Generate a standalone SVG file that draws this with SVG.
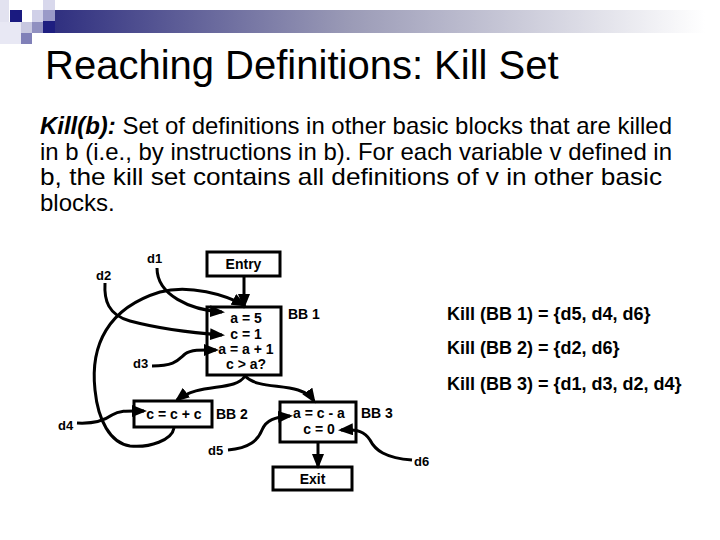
<svg xmlns="http://www.w3.org/2000/svg" width="720" height="540" viewBox="0 0 720 540">
<defs>
<linearGradient id="bar" x1="0" y1="0" x2="1" y2="0">
<stop offset="0" stop-color="#303080"/>
<stop offset="0.45" stop-color="#9a9ab6"/>
<stop offset="1" stop-color="#ffffff"/>
</linearGradient>
<marker id="ah" markerWidth="15" markerHeight="12" refX="12" refY="6" orient="auto" markerUnits="userSpaceOnUse">
<path d="M0,0 L15,6 L0,12 z" fill="#000"/>
</marker>
<style>
.box{fill:#fff;stroke:#000;stroke-width:3}
.bt{font-family:"Liberation Sans",Arial,sans-serif;font-weight:bold;font-size:14px;fill:#000;text-anchor:middle}
.lb{font-family:"Liberation Sans",Arial,sans-serif;font-weight:bold;font-size:14px;fill:#000}
.dl{font-family:"Liberation Sans",Arial,sans-serif;font-weight:bold;font-size:13px;fill:#000}
.ks{font-family:"Liberation Sans",Arial,sans-serif;font-weight:bold;font-size:18px;fill:#000}
.body{font-family:"Liberation Sans",Arial,sans-serif;font-size:24px;fill:#000}
.ca{fill:none;stroke:#000;stroke-width:3;marker-end:url(#ah)}
</style>
</defs>
<rect width="720" height="540" fill="#fff"/>
<g id="decoration">
<rect x="0" y="0" width="9" height="44" fill="#e2e2f0"/>
<rect x="0" y="22" width="22" height="22" fill="#e8e8f4"/>
<rect x="10" y="10" width="12" height="12" fill="#1a1a80"/>
<rect x="32" y="10" width="11" height="12" fill="#d0d0e8"/>
<rect x="43" y="0" width="12" height="10" fill="#d8d8ec"/>
<rect x="43" y="10" width="12" height="11" fill="#9a9ac8"/>
<rect x="21" y="22" width="11" height="11" fill="#c8c8e0"/>
<rect x="32" y="22" width="11" height="11" fill="#9090c0"/>
<rect x="43" y="21" width="12" height="12" fill="#1e1e80"/>
<rect x="21" y="33" width="11" height="11" fill="#8080b8"/>
<rect x="55" y="10" width="650" height="23" fill="url(#bar)"/>
</g>
<text x="45" y="79" font-family="'Liberation Sans',Arial,sans-serif" font-size="40" fill="#000">Reaching Definitions: Kill Set</text>
<g id="body-text">
<text class="body" x="40" y="134" textLength="632" lengthAdjust="spacingAndGlyphs"><tspan font-weight="bold" font-style="italic">Kill(b):</tspan> Set of definitions in other basic blocks that are killed</text>
<text class="body" x="40" y="160" textLength="632" lengthAdjust="spacingAndGlyphs">in b (i.e., by instructions in b). For each variable v defined in</text>
<text class="body" x="40" y="185" textLength="622" lengthAdjust="spacingAndGlyphs">b, the kill set contains all definitions of v in other basic</text>
<text class="body" x="40" y="211">blocks.</text>
</g>
<g id="entry">
<rect class="box" x="207" y="252" width="73" height="24"/>
<text class="bt" x="243.5" y="269">Entry</text>
</g>
<g id="bb1">
<rect class="box" x="207" y="307" width="74" height="68"/>
<text class="bt" x="246" y="323">a = 5</text>
<text class="bt" x="246" y="339">c = 1</text>
<text class="bt" x="246" y="354">a = a + 1</text>
<text class="bt" x="246" y="369">c &gt; a?</text>
<text class="lb" x="288" y="319">BB 1</text>
</g>
<g id="bb2">
<rect class="box" x="134" y="401" width="78" height="26"/>
<text class="bt" x="174" y="419">c = c + c</text>
<text class="lb" x="216" y="419">BB 2</text>
</g>
<g id="bb3">
<rect class="box" x="280" y="402" width="76" height="40"/>
<text class="bt" x="319" y="418">a = c - a</text>
<text class="bt" x="319" y="434">c = 0</text>
<text class="lb" x="361" y="418">BB 3</text>
</g>
<g id="exit">
<rect class="box" x="273" y="467" width="79" height="23"/>
<text class="bt" x="312.5" y="484">Exit</text>
</g>
<g id="connectors">
<path class="ca" d="M244,277 L244,306"/>
<path class="ca" d="M245,376 C235,392 200,382 177,400"/>
<path class="ca" d="M245,376 C260,392 300,380 314,401"/>
<path class="ca" d="M318,443 L318,466"/>
<path class="ca" d="M174,428 C172,440 150,448 130,446 C110,443 98,420 95,390 C90,345 108,308 160,292 C190,284 225,295 244,305"/>
<path class="ca" d="M157,268 C157,295 190,310 222,312"/>
<path class="ca" d="M105,283 C104,300 108,315 130,321 C160,329 195,333 222,335"/>
<path class="ca" d="M152,366 C175,366 178,360 185,354 C192,349 205,350 216,350"/>
<path class="ca" d="M77,423 C95,424 105,420 112,415 C120,410 130,411 144,411"/>
<path class="ca" d="M228,450 C250,448 258,440 262,430 C266,420 275,417 290,416"/>
<path class="ca" d="M412,460 C385,458 375,450 370,440 C365,432 358,429 341,430"/>
</g>
<g id="defs-labels">
<text class="dl" x="147" y="263">d1</text>
<text class="dl" x="96" y="280">d2</text>
<text class="dl" x="133" y="368">d3</text>
<text class="dl" x="58" y="430">d4</text>
<text class="dl" x="208" y="455">d5</text>
<text class="dl" x="414" y="466">d6</text>
</g>
<g id="kill-sets">
<text class="ks" x="447" y="320">Kill (BB 1) = {d5, d4, d6}</text>
<text class="ks" x="447" y="354">Kill (BB 2) = {d2, d6}</text>
<text class="ks" x="447" y="390">Kill (BB 3) = {d1, d3, d2, d4}</text>
</g>
</svg>
